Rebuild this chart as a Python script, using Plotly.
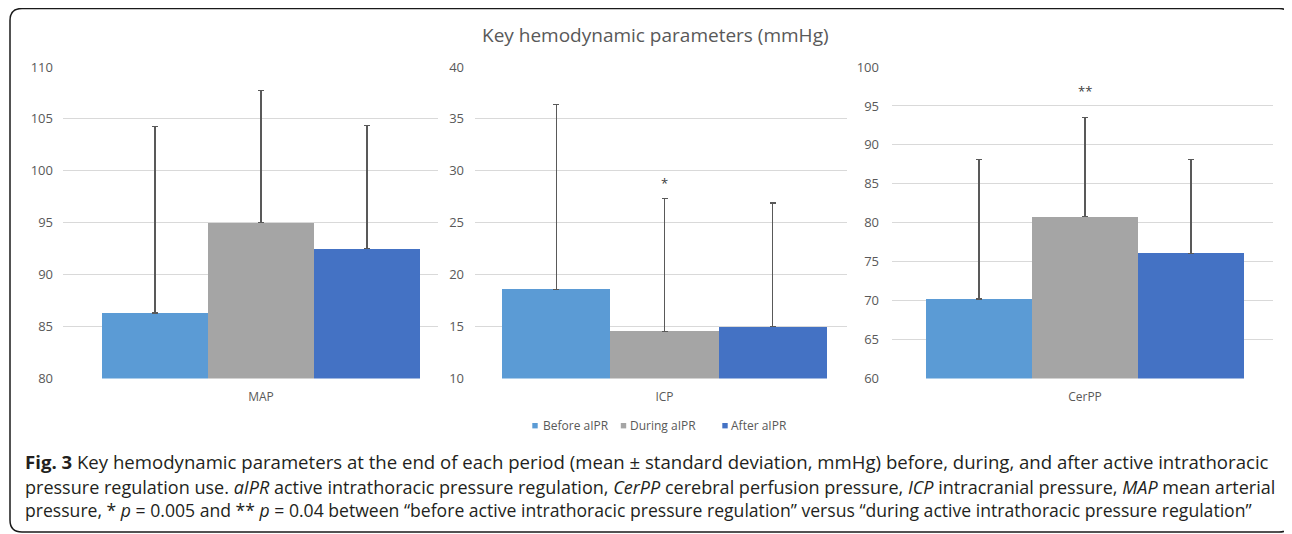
import plotly.graph_objects as go

# ---------------- data ----------------
params = ["MAP", "ICP", "CerPP"]
series_names = ["Before aIPR", "During aIPR", "After aIPR"]
before_mean = [86.3, 18.6, 70.2]
before_sd = [18.0, 17.8, 17.9]
during_mean = [95.0, 14.55, 80.8]
during_sd = [12.7, 12.8, 12.7]
after_mean = [92.5, 15.0, 76.1]
after_sd = [11.9, 11.9, 12.0]
y_ranges = [[80, 110], [10, 40], [60, 100]]
y_dtick = 5
sig_marks = ["", "*", "**"]
sig_y = [None, 28.8, 96.9]
title_text = "Key hemodynamic parameters (mmHg)"
cap_lines = [
    "<b>Fig. 3</b> Key hemodynamic parameters at the end of each period (mean ± standard deviation, mmHg) before, during, and after active intrathoracic",
    "pressure regulation use. <i>aIPR</i> active intrathoracic pressure regulation, <i>CerPP</i> cerebral perfusion pressure, <i>ICP</i> intracranial pressure, <i>MAP</i> mean arterial",
    "pressure, * <i>p</i> = 0.005 and ** <i>p</i> = 0.04 between “before active intrathoracic pressure regulation” versus “during active intrathoracic pressure regulation”",
]

colors = ["#5B9BD5", "#A5A5A5", "#4472C4"]
means = [before_mean, during_mean, after_mean]
sds = [before_sd, during_sd, after_sd]

W, H = 1292, 534
OFF = 8  # page body margin
px = lambda v: (v - OFF) / W
py = lambda v: 1 - (v - OFF) / H

x_doms = [(63, 438), (475, 847), (892, 1273)]
x_ranges = [[-0.6226, 0.5566], [-0.5831, 0.5615], [-0.6069, 0.5912]]
y_standoff = [9, 10, 12]
y_dom = [py(378.5), py(67)]

fig = go.Figure()
tick_font = dict(family="Open Sans", size=13, color="#595959")
cat_font = dict(family="Open Sans", size=12, color="#595959")

for p, name in enumerate(params):
    xa = "x" if p == 0 else f"x{p+1}"
    ya = "y" if p == 0 else f"y{p+1}"
    for s in range(3):
        fig.add_trace(go.Bar(
            x=[name], y=[means[s][p]], name=series_names[s],
            marker=dict(color=colors[s], line=dict(width=0)),
            error_y=dict(type="data", array=[sds[s][p]], arrayminus=[0], symmetric=False,
                         color="#595959", thickness=1.2, width=3),
            xaxis=xa, yaxis=ya, showlegend=False, hoverinfo="skip",
        ))
    xkey = "xaxis" if p == 0 else f"xaxis{p+1}"
    ykey = "yaxis" if p == 0 else f"yaxis{p+1}"
    fig.layout[xkey] = dict(domain=[px(x_doms[p][0]), px(x_doms[p][1])], anchor=ya,
                            range=x_ranges[p], showgrid=False, showline=False, zeroline=False,
                            ticks="", tickfont=cat_font, ticklabelstandoff=9, automargin=False,
                            fixedrange=True, type="category")
    fig.layout[ykey] = dict(domain=y_dom, anchor=xa, range=y_ranges[p], dtick=y_dtick,
                            showgrid=True, gridcolor="#D9D9D9", gridwidth=1, zeroline=False,
                            showline=False, ticks="", tickfont=tick_font, automargin=False,
                            ticklabelstandoff=y_standoff[p], fixedrange=True)
    if sig_marks[p]:
        fig.add_annotation(x=name, y=sig_y[p], xref=xa, yref=ya, text=sig_marks[p],
                           showarrow=False, font=dict(family="Open Sans", size=13, color="#404040"))

fig.update_layout(
    width=W, height=H, margin=dict(l=0, r=0, t=0, b=0, autoexpand=False),
    paper_bgcolor="white", plot_bgcolor="white",
    barmode="group", bargap=0, bargroupgap=0, showlegend=False,
)

# legend (squares + labels)
leg_sq_x = [535, 623.5, 725]
leg_txt_x = [540.5, 627.5, 729]
leg_y = 425.7
for s in range(3):
    fig.add_shape(type="rect", xref="paper", yref="paper",
                  x0=px(leg_sq_x[s] - 2.7), x1=px(leg_sq_x[s] + 2.7),
                  y0=py(leg_y + 2.7), y1=py(leg_y - 2.7),
                  fillcolor=colors[s], line=dict(width=0))
    fig.add_annotation(x=px(leg_txt_x[s]), y=py(leg_y), xref="paper", yref="paper",
                       text=series_names[s], showarrow=False, xanchor="left", yanchor="middle",
                       font=dict(family="Open Sans", size=12, color="#595959"))

# chart title
fig.add_annotation(x=px(655), y=py(35), xref="paper", yref="paper", text=title_text,
                   showarrow=False, font=dict(family="Open Sans", size=19, color="#595959"),
                   xanchor="center", yanchor="middle")

# caption
cap_y = [461.5, 486.5, 510]
cap_sizes = [18.6, 18.05, 17.6]
for line, yy, fs in zip(cap_lines, cap_y, cap_sizes):
    fig.add_annotation(x=px(23), y=py(yy), xref="paper", yref="paper", text=line,
                       showarrow=False, xanchor="left", yanchor="middle", align="left",
                       font=dict(family="Open Sans", size=fs, color="#231F20"))

# rounded border
x0, x1, y0, y1, r = 10, 1291, 8.5, 532, 12
path = (f"M {px(x0+r)},{py(y0)} L {px(x1-r)},{py(y0)} Q {px(x1)},{py(y0)} {px(x1)},{py(y0+r)} "
        f"L {px(x1)},{py(y1-r)} Q {px(x1)},{py(y1)} {px(x1-r)},{py(y1)} "
        f"L {px(x0+r)},{py(y1)} Q {px(x0)},{py(y1)} {px(x0)},{py(y1-r)} "
        f"L {px(x0)},{py(y0+r)} Q {px(x0)},{py(y0)} {px(x0+r)},{py(y0)} Z")
fig.add_shape(type="path", path=path, xref="paper", yref="paper",
              line=dict(color="#1A1A1A", width=1.5), fillcolor="rgba(0,0,0,0)", layer="above")

fig.write_html("out.html")
